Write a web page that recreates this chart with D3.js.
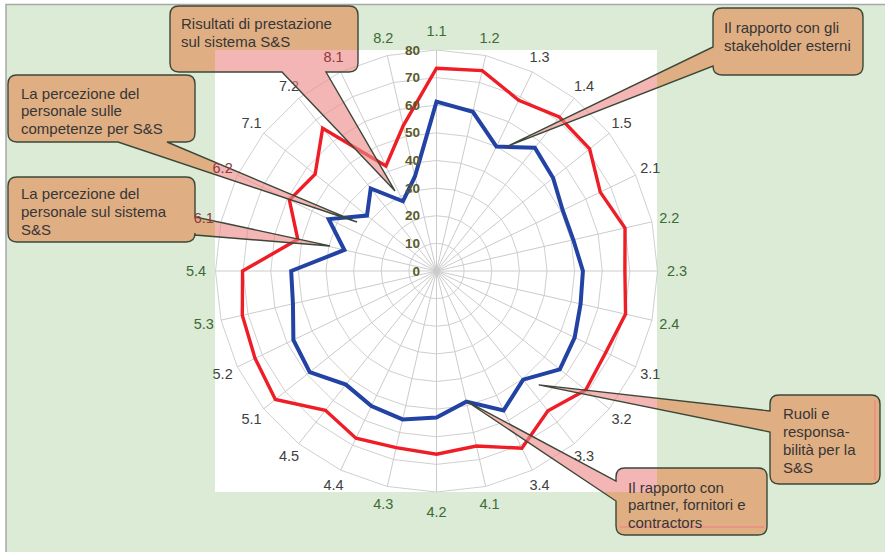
<!DOCTYPE html>
<html><head><meta charset="utf-8">
<script src="https://cdn.jsdelivr.net/npm/d3@7"></script>
<style>html,body{margin:0;padding:0;background:#fff;} svg{display:block;}</style>
</head><body>
<svg id="chart" width="885" height="552"></svg>
<script>
// ---------------- DATA ----------------
const categories = ["1.1","1.2","1.3","1.4","1.5","2.1","2.2","2.3","2.4","3.1","3.2","3.3","3.4",
  "4.1","4.2","4.3","4.4","4.5","5.1","5.2","5.3","5.4","6.1","6.2","7.1","7.2","8.1","8.2"];
const seriesRed  = [73.4,74.4,68.6,71.3,70.9,65.8,70.0,68.2,70.2,68.0,69.1,64.7,71.2,
  65.0,66.3,65.6,67.2,64.5,74.6,72.9,72.1,70.2,51.5,59.1,56.2,66.1,42.2,54.0];
const seriesBlue = [61.3,59.1,50.0,57.1,54.0,50.7,50.8,53.0,53.5,55.5,57.1,50.3,56.0,
  48.5,53.0,55.1,54.3,52.6,58.7,57.5,53.3,52.6,34.2,43.3,32.2,38.2,28.0,35.1];
const tickValues = [0,10,20,30,40,50,60,70,80];
const coveredLabels = ["8.1","6.1","6.2"];

// callout texts and the chart position (axis index, value) their pointer aims at
const calloutTexts = [
  ["Risultati di prestazione","sul sistema S&S"],
  ["La percezione del","personale sulle","competenze per S&S"],
  ["La percezione del","personale sul sistema","S&S"],
  ["Il rapporto con gli","stakeholder esterni"],
  ["Ruoli e","responsa-","bilità per la","S&S"],
  ["Il rapporto con","partner, fornitori e","contractors"]
];
const calloutTargetAxis  = [25.87, 23.46, 22.03, 2.29, 10.74, 12.98];
const calloutTargetValue = [32.6, 33.8, 39.6, 51.7, 55.4, 48.5];

// ---------------- LAYOUT ----------------
const W = 885, H = 552;
const cx = 436.5, cy = 271, R = 221;
const plot = {x:215, y:50, w:442, h:442};
// box [x,y,w,h], tail side, base positions along side, text x, first line center y, line step
const calloutLayout = [
  {box:[170,6,188,66],  side:"bottom", b:[282,326], tx:181, ty:23,  step:18},
  {box:[8,75,187,67],   side:"bottom", b:[118,167], tx:21,  ty:93,  step:17.7},
  {box:[8,177,187,65],  side:"right",  b:[217,235], tx:21,  ty:193, step:18},
  {box:[713,8,150,67],  side:"left",   b:[47,66],   tx:724, ty:27,  step:18},
  {box:[770,395,110,89],side:"left",   b:[411,432], tx:783, ty:413, step:18},
  {box:[616,468,151,67],side:"left",   b:[481,501], tx:628, ty:487, step:17.5}
];

const svg = d3.select("#chart");
const defs = svg.append("defs");
defs.append("clipPath").attr("id","clipIn").append("rect")
  .attr("x",plot.x).attr("y",plot.y).attr("width",plot.w).attr("height",plot.h);
defs.append("clipPath").attr("id","clipOut").append("path")
  .attr("clip-rule","evenodd")
  .attr("d",`M0,0H${W}V${H}H0Z M${plot.x},${plot.y}V${plot.y+plot.h}H${plot.x+plot.w}V${plot.y}Z`);

// backgrounds
svg.append("rect").attr("width",W).attr("height",H).attr("fill","#ffffff");
svg.append("rect").attr("x",6).attr("y",4.5).attr("width",W+20).attr("height",H+20)
  .attr("fill","#dcebd5").attr("stroke","#a8a8a8").attr("stroke-width",1.5);
svg.append("rect").attr("x",plot.x).attr("y",plot.y).attr("width",plot.w).attr("height",plot.h)
  .attr("fill","#ffffff");

const n = categories.length;
const rScale = d3.scaleLinear().domain([0,80]).range([0,R]);
const aScale = d3.scaleLinear().domain([0,n]).range([0,2*Math.PI]);
const pt = (i,v) => [cx + rScale(v)*Math.sin(aScale(i)), cy - rScale(v)*Math.cos(aScale(i))];

const g = svg.append("g").attr("transform",`translate(${cx},${cy})`);

// grid rings
const ring = d3.lineRadial().angle((d,i)=>aScale(i)).radius(d=>rScale(d)).curve(d3.curveLinearClosed);
tickValues.filter(t=>t>0).forEach(t=>{
  g.append("path").attr("d", ring(categories.map(()=>t)))
    .attr("fill","none").attr("stroke","#d0d0d0").attr("stroke-width",1);
});
// spokes
g.selectAll("line.spoke").data(categories).enter().append("line")
  .attr("x1",0).attr("y1",0)
  .attr("x2",(d,i)=>rScale(80)*Math.sin(aScale(i)))
  .attr("y2",(d,i)=>-rScale(80)*Math.cos(aScale(i)))
  .attr("stroke","#cbcbcb").attr("stroke-width",1);

// series
g.append("path").attr("d", ring(seriesRed)).attr("fill","none")
  .attr("stroke","#ee1d26").attr("stroke-width",3.4).attr("stroke-linejoin","miter");
g.append("path").attr("d", ring(seriesBlue)).attr("fill","none")
  .attr("stroke","#2243a4").attr("stroke-width",4).attr("stroke-linejoin","miter");

// tick labels
svg.selectAll("text.tick").data(tickValues).enter().append("text")
  .attr("x", cx-16.5).attr("y", d=>cy - rScale(d))
  .attr("text-anchor","end").attr("dominant-baseline","central")
  .attr("font-family","Liberation Sans, Arial, sans-serif")
  .attr("font-size",13.5).attr("font-weight","bold").attr("fill","#5b5a2b")
  .text(d=>d);

// axis labels
function labelPos(i){
  const a = aScale(i), ux = Math.sin(a), uy = -Math.cos(a);
  const rr = R + 19.5 - 4*Math.abs(Math.sin(2*a));
  return [cx + rr*ux, cy + rr*uy];
}
function drawLabels(clip, color, filterFn){
  svg.append("g").attr("clip-path",`url(#${clip})`)
    .selectAll("text").data(categories.map((c,i)=>({c,i})).filter(filterFn)).enter().append("text")
    .attr("x",d=>labelPos(d.i)[0]).attr("y",d=>labelPos(d.i)[1])
    .attr("text-anchor","middle").attr("dominant-baseline","central")
    .attr("font-family","Liberation Sans, Arial, sans-serif").attr("font-size",14.5)
    .attr("fill",color).text(d=>d.c);
}
drawLabels("clipIn","#404040", d=>!coveredLabels.includes(d.c));
drawLabels("clipOut","#3b6a35", d=>!coveredLabels.includes(d.c));

// callouts
function calloutPath(L, tip){
  const [x,y,w,h] = L.box, r = 9, [b1,b2] = L.b;
  const T = `L${tip[0]},${tip[1]}`;
  let p = `M${x+r},${y}`;
  if (L.side==="top") p += `L${b1},${y}${T}L${b2},${y}`;
  p += `L${x+w-r},${y}Q${x+w},${y} ${x+w},${y+r}`;
  if (L.side==="right") p += `L${x+w},${b1}${T}L${x+w},${b2}`;
  p += `L${x+w},${y+h-r}Q${x+w},${y+h} ${x+w-r},${y+h}`;
  if (L.side==="bottom") p += `L${b2},${y+h}${T}L${b1},${y+h}`;
  p += `L${x+r},${y+h}Q${x},${y+h} ${x},${y+h-r}`;
  if (L.side==="left") p += `L${x},${b2}${T}L${x},${b1}`;
  p += `L${x},${y+r}Q${x},${y} ${x+r},${y}Z`;
  return p;
}
const cg = svg.append("g");
calloutLayout.forEach((L,k)=>{
  const tip = pt(calloutTargetAxis[k], calloutTargetValue[k]);
  const d = calloutPath(L, tip);
  cg.append("path").attr("d",d).attr("clip-path","url(#clipIn)")
    .attr("fill","#ee8787").attr("fill-opacity",0.62);
  cg.append("path").attr("d",d).attr("clip-path","url(#clipOut)")
    .attr("fill","#e0a87c").attr("fill-opacity",0.92);
  cg.append("path").attr("d",d).attr("fill","none")
    .attr("stroke","#3b4739").attr("stroke-width",1.4).attr("stroke-linejoin","miter");
});

// labels lying under the callouts
svg.append("g").selectAll("text").data(categories.map((c,i)=>({c,i})).filter(d=>coveredLabels.includes(d.c)))
  .enter().append("text")
  .attr("x",d=>labelPos(d.i)[0]).attr("y",d=>labelPos(d.i)[1])
  .attr("text-anchor","middle").attr("dominant-baseline","central")
  .attr("font-family","Liberation Sans, Arial, sans-serif").attr("font-size",14.5)
  .attr("fill","#8e3a3a").text(d=>d.c);

// small artefact stripes seen on two boxes
svg.append("line").attr("x1",875).attr("x2",875).attr("y1",400).attr("y2",480)
  .attr("stroke","#f08a8a").attr("stroke-width",1.5);
svg.append("line").attr("x1",620).attr("x2",764).attr("y1",527).attr("y2",527)
  .attr("stroke","#f08a8a").attr("stroke-width",1.5);

// callout texts
calloutLayout.forEach((L,k)=>{
  svg.append("g").selectAll("text").data(calloutTexts[k]).enter().append("text")
    .attr("x",L.tx).attr("y",(d,j)=>L.ty + j*L.step)
    .attr("dominant-baseline","central")
    .attr("font-family","Liberation Sans, Arial, sans-serif").attr("font-size",15)
    .attr("fill","#363636").text(d=>d);
});
</script>
</body></html>
